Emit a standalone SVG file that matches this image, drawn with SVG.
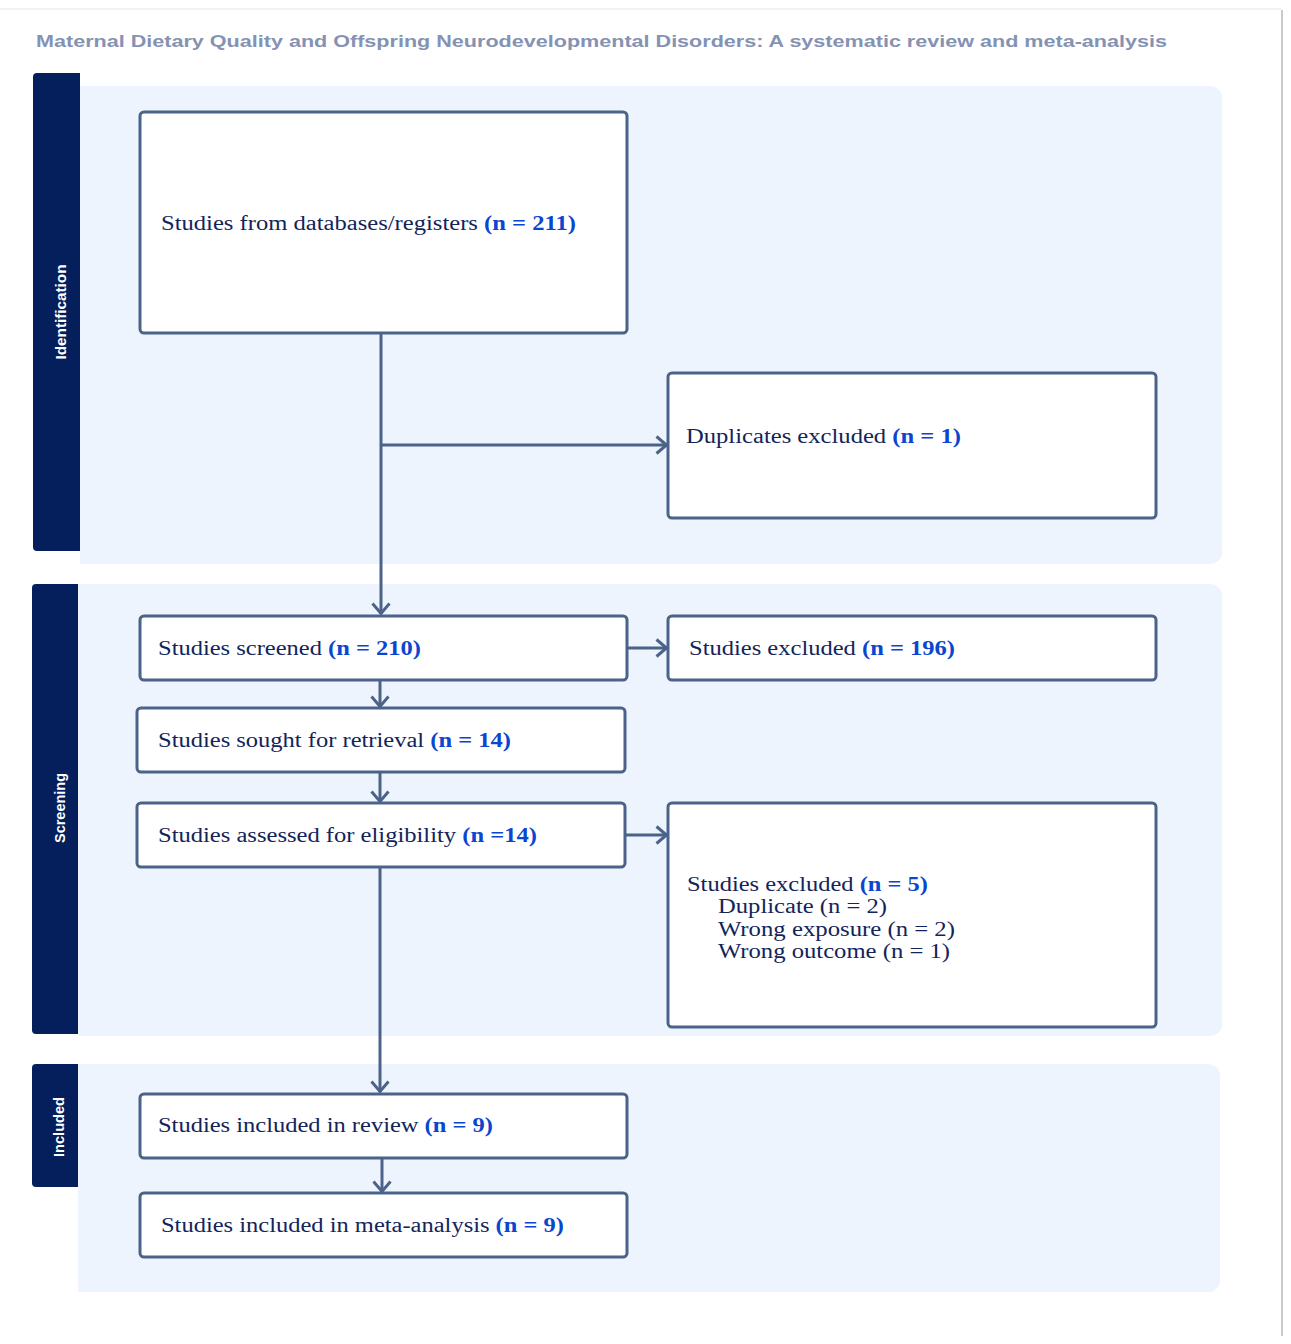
<svg xmlns="http://www.w3.org/2000/svg" width="1291" height="1344" viewBox="0 0 1291 1344">
<style>
.panel{fill:#edf4fe}
.bar{fill:#041f5c}
.box{fill:#ffffff;stroke:#4c6389;stroke-width:3}
.lbl{font-family:"Liberation Sans","DejaVu Sans",sans-serif;font-weight:bold;font-size:15px;fill:#ffffff}
.t{font-family:"Liberation Serif","DejaVu Serif",serif;font-size:20px;fill:#13245a}
.n{font-weight:bold;fill:#0b46d0}
.c{fill:none;stroke:#4c6389;stroke-width:3}
.title{font-family:"Liberation Sans","DejaVu Sans",sans-serif;font-size:17px;fill:#8592b2;font-weight:bold}
</style>
<defs>
<marker id="ah" viewBox="0 0 14 20" refX="12.5" refY="10" markerWidth="14" markerHeight="20" markerUnits="userSpaceOnUse" orient="auto">
<polyline points="2,1.5 12,10 2,18.5" fill="none" stroke="#4c6389" stroke-width="3"/>
</marker>
</defs>
<rect width="1291" height="1344" fill="#ffffff"/>
<line x1="0" y1="9" x2="1281" y2="9" stroke="#f2f2f2" stroke-width="2"/>
<line x1="1282" y1="10" x2="1282" y2="1336" stroke="#c9c9c9" stroke-width="2"/>
<text class="title" x="36" y="47" textLength="1131" lengthAdjust="spacingAndGlyphs">Maternal Dietary Quality and Offspring Neurodevelopmental Disorders: A systematic review and meta-analysis</text>

<g id="band-identification">
<path class="panel" d="M80,86 H1210 A12,12 0 0 1 1222,98 V552 A12,12 0 0 1 1210,564 H80 Z"/>
<rect class="bar" x="33" y="73" width="47" height="478" rx="4"/>
<rect class="bar" x="60" y="73" width="20" height="478"/>
<text class="lbl" transform="translate(66,312) rotate(-90)" text-anchor="middle" textLength="95" lengthAdjust="spacingAndGlyphs">Identification</text>
</g>
<g id="band-screening">
<path class="panel" d="M78,584 H1210 A12,12 0 0 1 1222,596 V1024 A12,12 0 0 1 1210,1036 H78 Z"/>
<rect class="bar" x="32" y="584" width="46" height="450" rx="4"/>
<rect class="bar" x="60" y="584" width="18" height="450"/>
<text class="lbl" transform="translate(65,808) rotate(-90)" text-anchor="middle" textLength="70" lengthAdjust="spacingAndGlyphs">Screening</text>
</g>
<g id="band-included">
<path class="panel" d="M78,1064 H1208 A12,12 0 0 1 1220,1076 V1280 A12,12 0 0 1 1208,1292 H78 Z"/>
<rect class="bar" x="32" y="1064" width="46" height="123" rx="4"/>
<rect class="bar" x="60" y="1064" width="18" height="123"/>
<text class="lbl" transform="translate(64,1127) rotate(-90)" text-anchor="middle" textLength="60" lengthAdjust="spacingAndGlyphs">Included</text>
</g>

<g id="connectors">
<line class="c" x1="381" y1="333" x2="381" y2="614" marker-end="url(#ah)"/>
<line class="c" x1="381" y1="445" x2="667" y2="445" marker-end="url(#ah)"/>
<line class="c" x1="627" y1="648" x2="667" y2="648" marker-end="url(#ah)"/>
<line class="c" x1="380" y1="680" x2="380" y2="707" marker-end="url(#ah)"/>
<line class="c" x1="380" y1="772" x2="380" y2="802" marker-end="url(#ah)"/>
<line class="c" x1="625" y1="835" x2="667" y2="835" marker-end="url(#ah)"/>
<line class="c" x1="380" y1="867" x2="380" y2="1092" marker-end="url(#ah)"/>
<line class="c" x1="382" y1="1158" x2="382" y2="1192" marker-end="url(#ah)"/>
</g>

<g id="node-databases">
<rect class="box" x="140" y="112" width="487" height="221" rx="4"/>
<text class="t" x="161" y="230" textLength="415" lengthAdjust="spacingAndGlyphs">Studies from databases/registers <tspan class="n">(n = 211)</tspan></text>
</g>
<g id="node-duplicates">
<rect class="box" x="668" y="373" width="488" height="145" rx="4"/>
<text class="t" x="686" y="443" textLength="275" lengthAdjust="spacingAndGlyphs">Duplicates excluded <tspan class="n">(n = 1)</tspan></text>
</g>
<g id="node-screened">
<rect class="box" x="140" y="616" width="487" height="64" rx="4"/>
<text class="t" x="158" y="655" textLength="263" lengthAdjust="spacingAndGlyphs">Studies screened <tspan class="n">(n = 210)</tspan></text>
</g>
<g id="node-excluded196">
<rect class="box" x="668" y="616" width="488" height="64" rx="4"/>
<text class="t" x="689" y="655" textLength="266" lengthAdjust="spacingAndGlyphs">Studies excluded <tspan class="n">(n = 196)</tspan></text>
</g>
<g id="node-sought">
<rect class="box" x="137" y="708" width="488" height="64" rx="4"/>
<text class="t" x="158" y="747" textLength="353" lengthAdjust="spacingAndGlyphs">Studies sought for retrieval <tspan class="n">(n = 14)</tspan></text>
</g>
<g id="node-assessed">
<rect class="box" x="137" y="803" width="488" height="64" rx="4"/>
<text class="t" x="158" y="842" textLength="379" lengthAdjust="spacingAndGlyphs">Studies assessed for eligibility <tspan class="n">(n =14)</tspan></text>
</g>
<g id="node-excluded5">
<rect class="box" x="668" y="803" width="488" height="224" rx="4"/>
<text class="t" x="687" y="891" textLength="241" lengthAdjust="spacingAndGlyphs">Studies excluded <tspan class="n">(n = 5)</tspan></text>
<text class="t" x="718" y="913" textLength="169" lengthAdjust="spacingAndGlyphs">Duplicate (n = 2)</text>
<text class="t" x="718" y="936" textLength="237" lengthAdjust="spacingAndGlyphs">Wrong exposure (n = 2)</text>
<text class="t" x="718" y="958" textLength="232" lengthAdjust="spacingAndGlyphs">Wrong outcome (n = 1)</text>
</g>
<g id="node-review">
<rect class="box" x="140" y="1094" width="487" height="64" rx="4"/>
<text class="t" x="158" y="1132" textLength="335" lengthAdjust="spacingAndGlyphs">Studies included in review <tspan class="n">(n = 9)</tspan></text>
</g>
<g id="node-meta">
<rect class="box" x="140" y="1193" width="487" height="64" rx="4"/>
<text class="t" x="161" y="1232" textLength="403" lengthAdjust="spacingAndGlyphs">Studies included in meta-analysis <tspan class="n">(n = 9)</tspan></text>
</g>
</svg>
